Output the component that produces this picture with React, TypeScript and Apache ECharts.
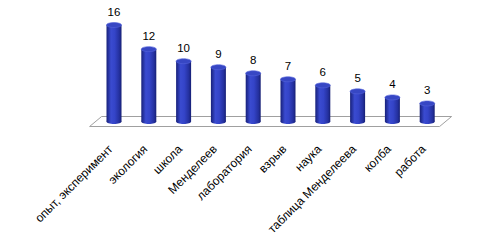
import React, { useEffect, useRef } from "react";
import * as echarts from "echarts";

const categories = [
  "опыт, эксперимент",
  "экология",
  "школа",
  "Менделеев",
  "лаборатория",
  "взрыв",
  "наука",
  "таблица Менделеева",
  "колба",
  "работа",
];
const counts = [16, 12, 10, 9, 8, 7, 6, 5, 4, 3];

const FONT = "'Liberation Sans', Arial, sans-serif";

const bodyGradient = () =>
  new echarts.graphic.LinearGradient(0, 0, 1, 0, [
    { offset: 0, color: "#17207a" },
    { offset: 0.3, color: "#3a4bd0" },
    { offset: 0.55, color: "#3444c8" },
    { offset: 0.85, color: "#24309e" },
    { offset: 1, color: "#161f74" },
  ]);

export default function App() {
  const ref = useRef<HTMLDivElement>(null);

  useEffect(() => {
    if (!ref.current) return;
    const chart = echarts.init(ref.current, undefined, { renderer: "svg" });

    const cylinder = (params: any, api: any) => {
      const idx = api.value(0);
      const val = api.value(1);
      const [cx, top] = api.coord([idx, val]);
      const base = api.coord([idx, 0])[1];
      const w = 15;
      const ry = 2.5;
      return {
        type: "group",
        children: [
          {
            type: "ellipse",
            shape: { cx, cy: base, rx: w / 2, ry },
            style: { fill: bodyGradient() },
          },
          {
            type: "rect",
            shape: { x: cx - w / 2, y: top, width: w, height: base - top },
            style: { fill: bodyGradient() },
          },
          {
            type: "ellipse",
            shape: { cx, cy: top, rx: w / 2, ry },
            style: { fill: "#3747c4", stroke: "#5565dc", lineWidth: 0.6 },
          },
          {
            type: "text",
            style: {
              text: String(val),
              x: cx,
              y: top - 7,
              align: "center",
              verticalAlign: "bottom",
              fill: "#000",
              font: `11.5px ${FONT}`,
            },
          },
        ],
      };
    };

    const floor = (params: any, api: any) => {
      const cs = params.coordSys;
      const base = cs.y + cs.height;
      const depth = 5;
      const slant = 6;
      const left = cs.x - 1;
      const right = cs.x + cs.width + 1;
      return {
        type: "polygon",
        shape: {
          points: [
            [left - slant, base + depth],
            [left + slant, base - depth],
            [right + slant, base - depth],
            [right - slant, base + depth],
          ],
        },
        style: { fill: "#ffffff", stroke: "#a0a0a0", lineWidth: 1 },
      };
    };

    chart.setOption({
      animation: false,
      grid: { left: 96.6, right: 45.4, top: 25, bottom: 122.5 },
      xAxis: {
        type: "category",
        data: categories,
        axisLine: { show: false },
        axisTick: { show: false },
        axisLabel: {
          rotate: 45,
          interval: 0,
          margin: 22,
          padding: [0, 5, 0, 0],
          fontSize: 12,
          fontFamily: FONT,
          color: "#000",
        },
      },
      yAxis: {
        type: "value",
        min: 0,
        max: 16,
        show: false,
        splitLine: { show: false },
      },
      series: [
        {
          type: "custom",
          z: 1,
          renderItem: floor,
          data: [[0, 0]],
          silent: true,
        },
        {
          type: "custom",
          z: 2,
          renderItem: cylinder,
          data: counts.map((v, i) => [i, v]),
        },
      ],
    });

    return () => chart.dispose();
  }, []);

  return (
    <div
      ref={ref}
      style={{ position: "absolute", left: 0, top: 0, width: 490, height: 244, background: "#fff" }}
    />
  );
}
